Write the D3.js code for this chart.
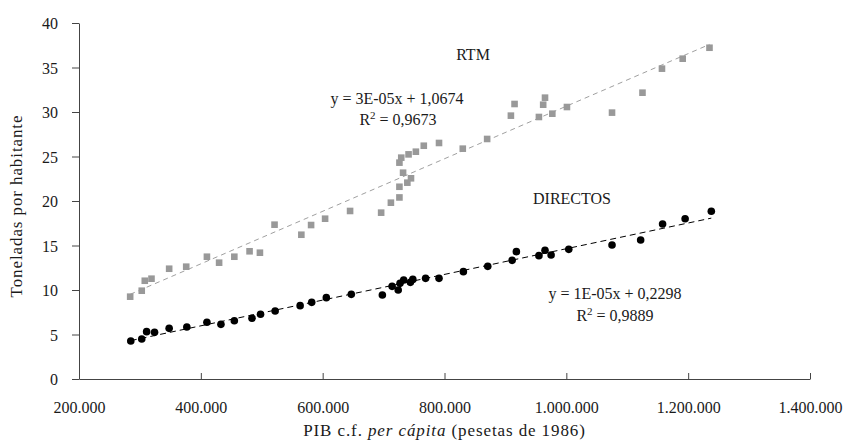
<!DOCTYPE html>
<html><head><meta charset="utf-8">
<script src="https://cdn.jsdelivr.net/npm/d3@7"></script>
<style>
html,body{margin:0;padding:0;background:#fff;}
svg text{font-family:"Liberation Serif","Times New Roman",serif;fill:#1a1a1a;}
</style></head>
<body><svg id="chart" width="843" height="444"></svg>
<script>
// Data (x: PIB c.f. per cápita, pesetas de 1986; y: toneladas por habitante)
const rtmX = [284000,303000,308000,319000,348000,376000,410000,430000,455000,480000,497000,521000,565000,581000,604000,645000,696000,712000,726000,726000,739000,745000,732000,726000,729000,741000,753000,766000,791000,830000,870000,909000,915000,955000,962000,965000,977000,1001000,1075000,1125000,1157000,1191000,1235000];
const rtmY = [9.25,9.92,11.04,11.27,12.39,12.62,13.74,13.07,13.74,14.35,14.19,17.34,16.21,17.30,18.01,18.88,18.69,19.81,20.40,21.60,22.06,22.55,23.18,24.31,24.87,25.24,25.54,26.21,26.52,25.88,26.97,29.59,30.90,29.44,30.82,31.61,29.81,30.56,29.93,32.17,34.87,35.99,37.22];
const dirX = [285000,303000,311000,324000,348000,377000,410000,433000,455000,484000,498000,522000,563000,582000,606000,647000,698000,714000,724000,727000,733000,744000,748000,769000,791000,831000,871000,911000,918000,955000,965000,975000,1004000,1075000,1122000,1158000,1195000,1238000];
const dirY = [4.27,4.49,5.32,5.24,5.69,5.84,6.37,6.14,6.55,6.82,7.27,7.64,8.24,8.61,9.14,9.51,9.44,10.41,10.00,10.75,11.12,10.86,11.19,11.31,11.31,12.06,12.66,13.33,14.31,13.86,14.46,13.93,14.57,15.06,15.62,17.42,18.01,18.84];
const xTicks = [200000,400000,600000,800000,1000000,1200000,1400000];
const yTicks = [0,5,10,15,20,25,30,35,40];
const labels = {rtm:"RTM", dir:"DIRECTOS", rtmEq:"y = 3E-05x + 1,0674", rtmR2:"0,9673", dirEq:"y = 1E-05x + 0,2298", dirR2:"0,9889",
  xTitleA:"PIB c.f. ", xTitleB:"per cápita", xTitleC:" (pesetas de 1986)", yTitle:"Toneladas por habitante"};

const svg = d3.select("#chart");
const mLeft=79, mRight=810, mTop=23, mBottom=379;
const x = d3.scaleLinear().domain([200000,1400000]).range([mLeft,mRight]);
const y = d3.scaleLinear().domain([0,40]).range([mBottom,mTop]);
const loc = d3.formatLocale({decimal:",",thousands:".",grouping:[3],currency:["",""]});
const fmt = loc.format(",.0f");

// axes
const xAxis = d3.axisBottom(x).tickValues(xTicks).tickFormat(fmt).tickSizeInner(-6).tickSizeOuter(0).tickPadding(0);
const gx = svg.append("g").attr("transform",`translate(0,${mBottom})`).call(xAxis);
gx.attr("font-family",null).attr("font-size",null);
gx.select(".domain").attr("stroke","#444");
gx.selectAll(".tick line").attr("stroke","#444");
gx.selectAll(".tick text").attr("y",34).attr("dy",0).style("font-size","16px").attr("fill","#1a1a1a");

const yAxis = d3.axisLeft(y).tickValues(yTicks).tickSizeInner(7).tickSizeOuter(0).tickPadding(14);
const gy = svg.append("g").attr("transform",`translate(${mLeft},0)`).call(yAxis);
gy.attr("font-family",null).attr("font-size",null);
gy.select(".domain").attr("stroke","#444");
gy.selectAll(".tick line").attr("stroke","#444");
gy.selectAll(".tick text").style("font-size","16px").attr("dy","0.35em").attr("fill","#1a1a1a");

// trendlines (least squares)
function fit(xs,ys){
  const n=xs.length, mx=d3.mean(xs), my=d3.mean(ys);
  let sxy=0,sxx=0; for(let i=0;i<n;i++){sxy+=(xs[i]-mx)*(ys[i]-my); sxx+=(xs[i]-mx)**2;}
  const b=sxy/sxx; return {b, a:my-b*mx, x0:d3.min(xs), x1:d3.max(xs)};
}
function trend(xs,ys,color,dash){
  const f=fit(xs,ys);
  svg.append("line").attr("x1",x(f.x0)).attr("y1",y(f.a+f.b*f.x0)).attr("x2",x(f.x1)).attr("y2",y(f.a+f.b*f.x1))
    .attr("stroke",color).attr("stroke-width",1).attr("stroke-dasharray",dash);
}
trend(rtmX,rtmY,"#a0a0a0","5,4");
trend(dirX,dirY,"#000","6,4");

// points
const rtm = rtmX.map((v,i)=>[v,rtmY[i]]);
const dir = dirX.map((v,i)=>[v,dirY[i]]);
svg.append("g").selectAll("rect").data(rtm).join("rect")
  .attr("x",d=>x(d[0])-3.3).attr("y",d=>y(d[1])-3.3).attr("width",6.6).attr("height",6.6).attr("fill","#999");
svg.append("g").selectAll("circle").data(dir).join("circle")
  .attr("cx",d=>x(d[0])).attr("cy",d=>y(d[1])).attr("r",3.8).attr("fill","#000");

// annotations
function txt(t,xx,yy,size){return svg.append("text").attr("x",xx).attr("y",yy).attr("text-anchor","middle").style("font-size",size+"px").text(t);}
txt(labels.rtm,473,60,16);
txt(labels.rtmEq,397,104,16);
const r1 = svg.append("text").attr("x",398).attr("y",125).attr("text-anchor","middle").style("font-size","16px");
r1.append("tspan").text("R");
r1.append("tspan").attr("dy",-6).style("font-size","11px").text("2");
r1.append("tspan").attr("dy",6).text(" = "+labels.rtmR2);
txt(labels.dir,572,204,16);
txt(labels.dirEq,615,299,16);
const r2 = svg.append("text").attr("x",615).attr("y",321).attr("text-anchor","middle").style("font-size","16px");
r2.append("tspan").text("R");
r2.append("tspan").attr("dy",-6).style("font-size","11px").text("2");
r2.append("tspan").attr("dy",6).text(" = "+labels.dirR2);

// axis titles
const xt = svg.append("text").attr("x",(mLeft+mRight)/2).attr("y",436).attr("text-anchor","middle")
  .style("font-size","17px").style("letter-spacing","0.9px");
xt.append("tspan").text(labels.xTitleA);
xt.append("tspan").style("font-style","italic").text(labels.xTitleB);
xt.append("tspan").text(labels.xTitleC);
svg.append("text").attr("transform","translate(22,206) rotate(-90)").attr("text-anchor","middle")
  .style("font-size","17px").style("letter-spacing","0.9px").text(labels.yTitle);
</script></body></html>
